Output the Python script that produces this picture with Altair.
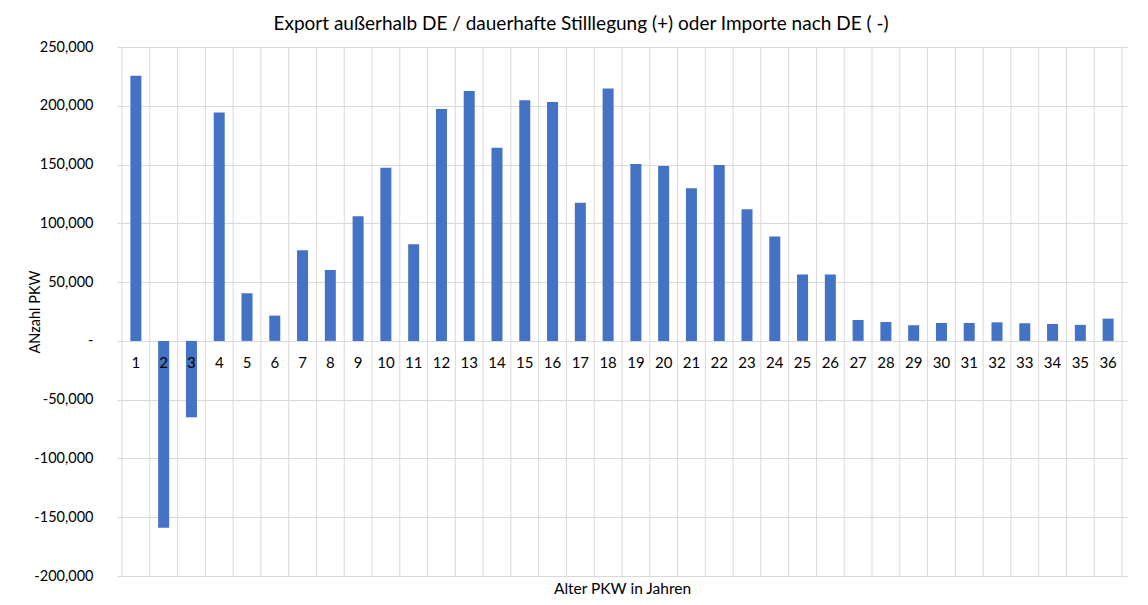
import altair as alt
import pandas as pd

ages = list(range(1, 37))
values = [225500, -159000, -65000, 194300, 40500, 21500, 77000, 60300, 106000, 147300,
          82200, 197200, 212500, 164300, 204600, 203200, 117600, 214800, 150400, 148700,
          129800, 149600, 111900, 88700, 56500, 56500, 17800, 16100, 13300, 15200,
          15200, 15800, 15000, 14400, 13600, 18900]
y_ticks = [-200000, -150000, -100000, -50000, 0, 50000, 100000, 150000, 200000, 250000]

df = pd.DataFrame({"age": ages, "value": values})
grid_df = pd.DataFrame({"b": [a - 0.5 for a in ages] + [ages[-1] + 0.5]})

FONT = "Lato"
x_scale = alt.Scale(domain=[0.5, 36.5], nice=False, zero=False)
y_scale = alt.Scale(domain=[-200000, 250000], nice=False)

vgrid = alt.Chart(grid_df).mark_rule(color="#d9d9d9", strokeWidth=1).encode(
    x=alt.X("b:Q", scale=x_scale,
            axis=alt.Axis(labels=False, ticks=False, domain=False, grid=False,
                          title="Alter PKW in Jahren", titleFont=FONT, titleFontSize=15.5,
                          titleFontWeight="normal", titleColor="#000000", titlePadding=5)),
)

bars = alt.Chart(df).mark_bar(size=11, color="#4472C4").encode(
    x=alt.X("age:Q", scale=x_scale),
    y=alt.Y("value:Q", scale=y_scale,
            axis=alt.Axis(values=y_ticks, ticks=False, domain=False, grid=True,
                          gridColor="#d9d9d9", labelFont=FONT, labelFontSize=14.5,
                          labelColor="#000000", labelPadding=24,
                          labelExpr="datum.value == 0 ? '-\u2007' : (datum.value < 0 ? '-' + format(-datum.value, ',') : format(datum.value, ','))",
                          title="ANzahl PKW", titleFont=FONT, titleFontSize=14.5,
                          titleFontWeight="normal", titleColor="#000000",
                          titleAngle=270, titleX=-82, titleY=264.5,
                          titleAlign="center", titleBaseline="middle")),
)

labels = alt.Chart(df).mark_text(dy=22, font=FONT, fontSize=15, color="#000000").encode(
    x=alt.X("age:Q", scale=x_scale),
    y=alt.Y("zero:Q", scale=y_scale),
    text=alt.Text("age:Q"),
).transform_calculate(zero="0")

chart = (vgrid + bars + labels).properties(
    width=1010,
    height=529,
    title=alt.TitleParams(
        "Export außerhalb DE / dauerhafte Stilllegung (+) oder Importe nach DE ( -)",
        font=FONT, fontSize=19, fontWeight="normal", color="#000000",
        anchor="middle", dx=-41, offset=5),
    autosize=alt.AutoSizeParams(type="none"),
    padding={"left": 109, "top": 39, "right": 10, "bottom": 20},
).configure_view(stroke=None)

chart.save("out.html", embed_options={"renderer": "svg", "actions": False})
